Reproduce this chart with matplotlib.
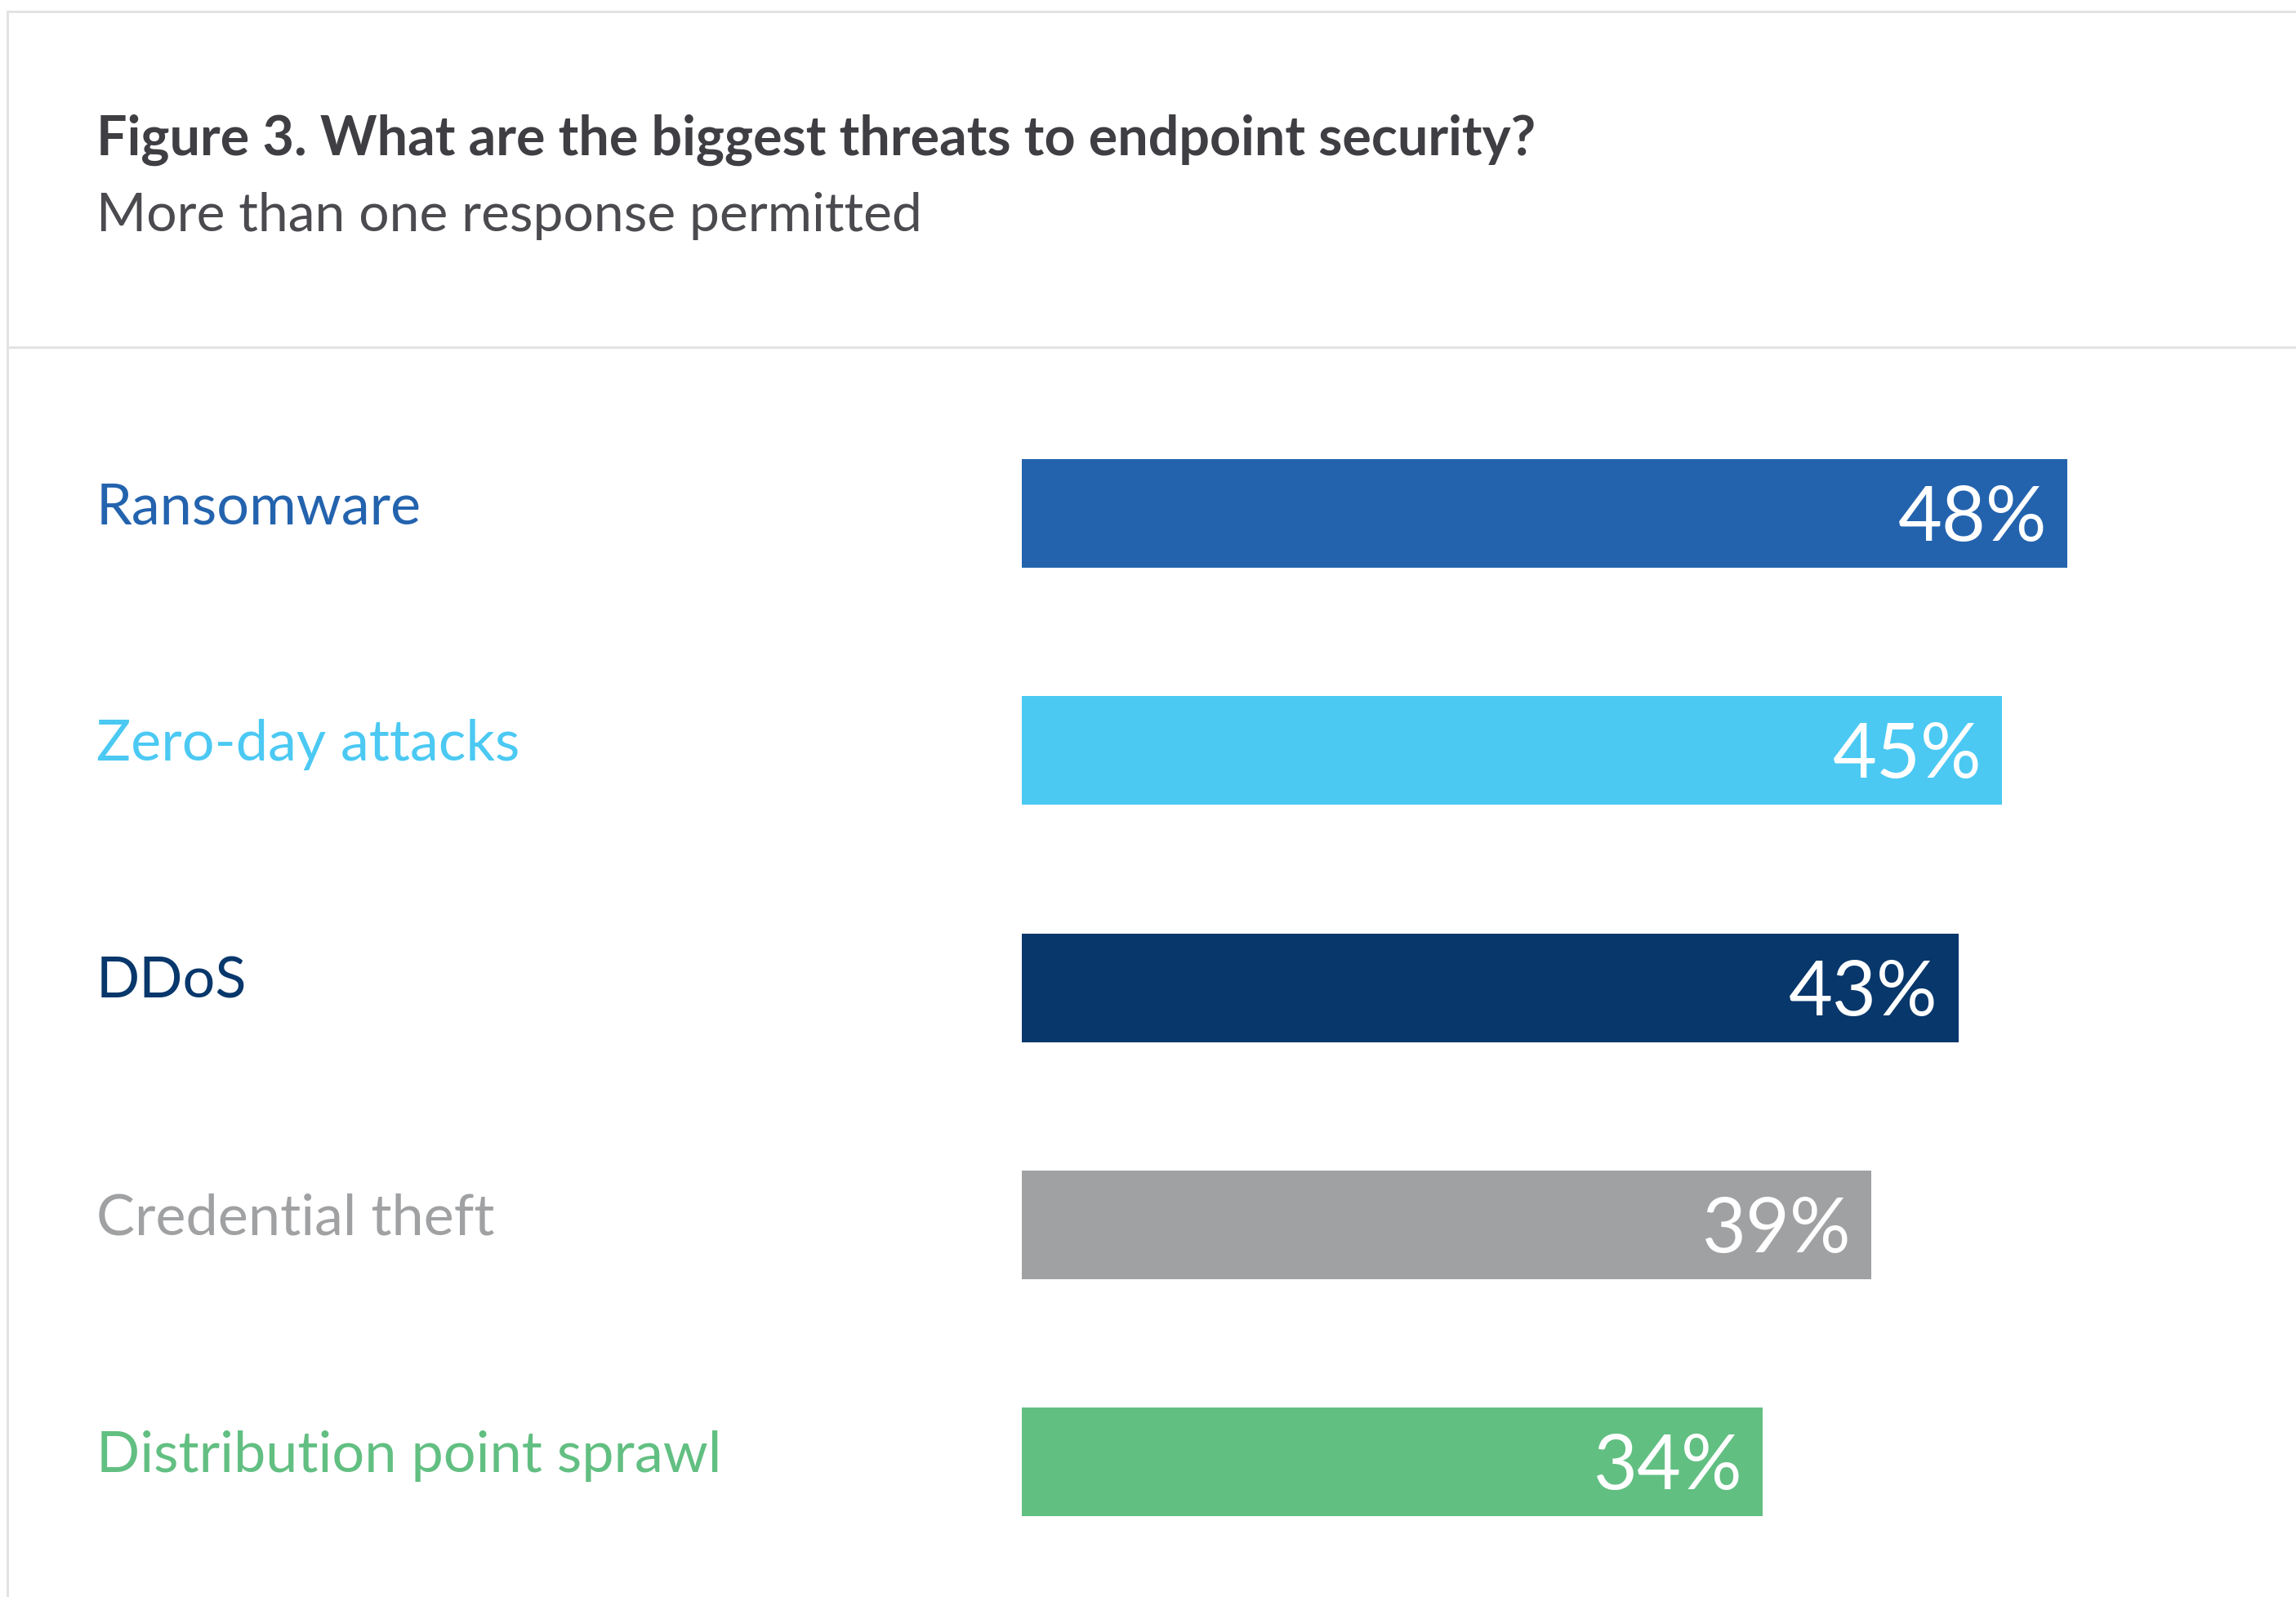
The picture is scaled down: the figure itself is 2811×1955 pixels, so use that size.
import matplotlib
matplotlib.use("Agg")
import matplotlib.pyplot as plt
from matplotlib.lines import Line2D
from matplotlib.transforms import blended_transform_factory

# threats and share of respondents naming them
threats = ["Ransomware", "Zero-day attacks", "DDoS", "Credential theft", "Distribution point sprawl"]
shares = [48, 45, 43, 39, 34]
bar_colors = ["#2363AE", "#4BC9F3", "#08376B", "#A0A1A3", "#62BF82"]

title = "Figure 3. What are the biggest threats to endpoint security?"
subtitle = "More than one response permitted"

W, H = 2811, 1956
DPI = 100
plt.rcParams["font.family"] = ["Lato", "DejaVu Sans"]

fig = plt.figure(figsize=(W / DPI, H / DPI), dpi=DPI)
fig.patch.set_facecolor("white")

# frame: top rule, left rule and the rule under the heading
rule = "#E3E3E3"
lw = 3 * 72 / DPI
fig.add_artist(Line2D([9 / W, 1], [1 - 15 / H, 1 - 15 / H], color=rule, lw=lw))
fig.add_artist(Line2D([9 / W, 9 / W], [1 - 15 / H, 0], color=rule, lw=lw))
fig.add_artist(Line2D([9 / W, 1], [1 - 426 / H, 1 - 426 / H], color=rule, lw=lw))

fig.text(118 / W, 1 - 190 / H, title, fontsize=47.8, fontweight="bold",
         color="#3E3E43", va="baseline", ha="left")
fig.text(118 / W, 1 - 283 / H, subtitle, fontsize=47.5, fontweight="normal",
         color="#4A4A4F", va="baseline", ha="left")

# bar area: 0% sits at x=1251px, 1% = 26.67px
x0 = 1251
px_per_pct = 26.67
row = 290.3
top_c = 629.5
ax_top = top_c - row / 2
ax_bot = top_c + row * (len(threats) - 0.5)
ax = fig.add_axes([x0 / W, 1 - ax_bot / H, (W - x0) / W, (ax_bot - ax_top) / H])
ax.set_xlim(0, (W - x0) / px_per_pct)
ax.set_ylim(len(threats) - 0.5, -0.5)
ax.axis("off")

ypos = list(range(len(threats)))
ax.barh(ypos, shares, height=133 / row, color=bar_colors, left=0)

pad = 25 / px_per_pct
trans = blended_transform_factory(fig.transFigure, ax.transData)
for i, (name, v, c) in enumerate(zip(threats, shares, bar_colors)):
    ax.text(v - pad, i + 32.5 / row, f"{v}%", color="white", fontsize=67,
            ha="right", va="baseline")
    ax.text(118 / W, i + 11.5 / row, name, color=c, fontsize=50.5,
            ha="left", va="baseline", transform=trans)

fig.savefig("out.png", dpi=DPI, facecolor="white")
